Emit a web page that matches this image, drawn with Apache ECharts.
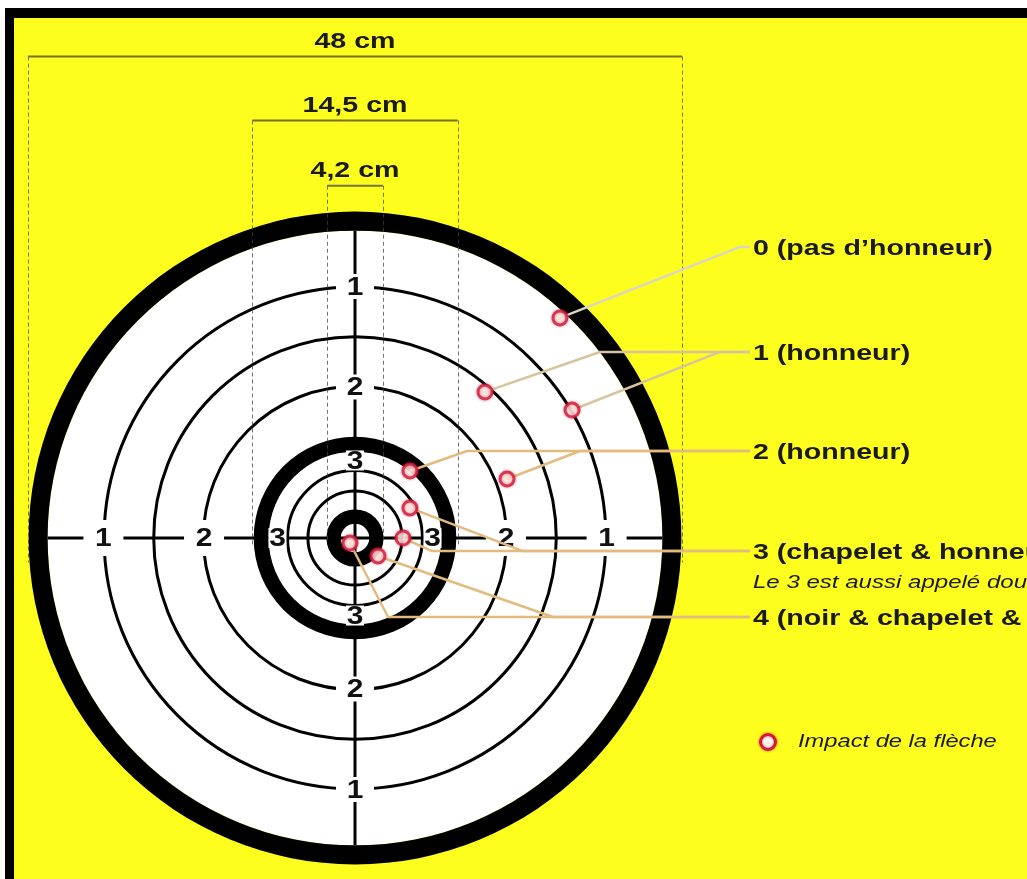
<!DOCTYPE html>
<html><head><meta charset="utf-8">
<script src="https://cdn.jsdelivr.net/npm/echarts@6/dist/echarts.min.js"></script>
<style>html,body{margin:0;padding:0;background:#fff}#c{width:1027px;height:879px}</style>
</head><body><div id="c"></div>
<script>
// ---------------- DATA (centimetres, target centre = 0,0) ----------------
// Target geometry
const faceRadius = 22.6;
const blackBands = [[22.6, 24.0], [6.35, 7.45], [1.05, 2.1]];   // [inner, outer] radii
const thinRings = [18.45, 14.8, 11.15, 4.96, 3.46];
const crossHalf = 22.6;

// Score numbers printed on the cross
const ringLabels = ['1', '2', '3'];
const ringLabelRadius = [18.5, 11.1, 5.7];

// Dimension annotations
const dimLabels = ['48 cm', '14,5 cm', '4,2 cm'];
const dimHalfWidth = [24.05, 7.55, 2.05];
const dimLineY = [35.4, 30.7, 25.9];
const dimGuideBottom = [-1.8, -0.6, -0.2];

// Arrow impacts
const impactX = [15.07, 9.56, 15.96, 4.04, 11.18, 4.04, 3.53, 1.69, -0.37];
const impactY = [16.18, 10.74, 9.41, 4.93, 4.34, 2.21, 0.0, -1.32, -0.37];
const impactScore = [0, 1, 1, 2, 2, 3, 3, 4, 4];
const impactBendX = [28.31, 18.01, 26.84, 8.24, 16.54, 12.35, 5.66, 14.56, 2.43];

// Score categories (right-hand captions)
const scoreLabels = ['0 (pas d\u2019honneur)', '1 (honneur)', '2 (honneur)',
  '3 (chapelet & honneur)', '4 (noir & chapelet & honneur)'];
const scoreLineY = [21.40, 13.68, 6.40, -0.96, -5.81];
const scoreLineEndX = 29.04;
const scoreNote = 'Le 3 est aussi appel\u00e9 double';
const legendLabel = 'Impact de la fl\u00e8che';

// ---------------- LAYOUT ----------------
const W = 1027, H = 879;
const SCALE = 13.6;              // px per cm
const CENTER_PX = [355, 538];
const FONT = '"Liberation Sans", Arial, sans-serif';
const STRETCH = 1.3;
const YELLOW = '#fefe1e';
const IMPACT_STYLE = {color: '#fff6ee', borderColor: '#cf1a3a', borderWidth: 3,
  shadowBlur: 3, shadowColor: 'rgba(215,20,50,0.55)'};

const chart = echarts.init(document.getElementById('c'), null, {renderer: 'canvas'});

const ringLabelItems = [];
ringLabels.forEach((t, k) => {
  [[0, 1], [0, -1], [-1, 0], [1, 0]].forEach(d => {
    ringLabelItems.push({x: d[0] * ringLabelRadius[k], y: d[1] * ringLabelRadius[k], k: k, vertical: d[0] === 0});
  });
});

const option = {
  animation: false,
  grid: {left: 0, right: 0, top: 0, bottom: 0},
  xAxis: {type: 'value', min: -CENTER_PX[0] / SCALE, max: (W - CENTER_PX[0]) / SCALE, show: false},
  yAxis: {type: 'value', min: -(H - CENTER_PX[1]) / SCALE, max: CENTER_PX[1] / SCALE, show: false},
  graphic: [
    {type: 'rect', z: -100, shape: {x: 0, y: 0, width: W, height: H}, style: {fill: '#ffffff'}},
    {type: 'rect', z: -99, shape: {x: 5, y: 8, width: W - 5, height: H - 8}, style: {fill: '#000'}},
    {type: 'rect', z: -98, shape: {x: 14, y: 18, width: W - 14, height: H - 18}, style: {fill: YELLOW}},
    {type: 'circle', z: 50, shape: {cx: 768, cy: 742, r: 7.5}, style: {fill: IMPACT_STYLE.color, stroke: IMPACT_STYLE.borderColor, lineWidth: 3, shadowBlur: 3, shadowColor: IMPACT_STYLE.shadowColor}},
    {type: 'text', z: 50, x: 798, y: 742, scaleX: 1.28, style: {text: legendLabel, font: 'italic 18.5px ' + FONT, fill: '#1a1a1a', align: 'left', verticalAlign: 'middle'}}
  ],
  series: [
    { // target face, rings, cross
      type: 'custom', z: 1, silent: true,
      data: [[0, 0]],
      renderItem: function (params, api) {
        const c = api.coord([0, 0]);
        const px = r => api.size([r, 0])[0];
        const ch = [];
        ch.push({type: 'circle', shape: {cx: c[0], cy: c[1], r: px(faceRadius)}, style: {fill: '#fff'}});
        thinRings.forEach(r => ch.push({type: 'circle', shape: {cx: c[0], cy: c[1], r: px(r)}, style: {fill: null, stroke: '#000', lineWidth: 3}}));
        blackBands.forEach(b => ch.push({type: 'ring', shape: {cx: c[0], cy: c[1], r: px(b[1]), r0: px(b[0])}, style: {fill: '#000'}}));
        const l = api.coord([-crossHalf, 0]), r = api.coord([crossHalf, 0]);
        const t = api.coord([0, crossHalf]), b = api.coord([0, -crossHalf]);
        ch.push({type: 'line', shape: {x1: l[0], y1: l[1], x2: r[0], y2: r[1]}, style: {stroke: '#000', lineWidth: 3}});
        ch.push({type: 'line', shape: {x1: t[0], y1: t[1], x2: b[0], y2: b[1]}, style: {stroke: '#000', lineWidth: 3}});
        return {type: 'group', children: ch};
      }
    },
    { // ring numbers
      type: 'custom', z: 3, silent: true,
      data: ringLabelItems.map(d => [d.x, d.y]),
      renderItem: function (params, api) {
        const it = ringLabelItems[params.dataIndex];
        const p = api.coord([it.x, it.y]);
        const box = it.k === 2 ? [18, 20] : (it.vertical ? [38, 25] : [40, 36]);
        return {type: 'group', children: [
          {type: 'rect', shape: {x: p[0] - box[0] / 2, y: p[1] - box[1] / 2, width: box[0], height: box[1]}, style: {fill: '#fff'}},
          {type: 'text', x: p[0], y: p[1] + 1, scaleX: 1.15, style: {text: ringLabels[it.k], font: 'bold 26px ' + FONT, fill: '#111', align: 'center', verticalAlign: 'middle'}}
        ]};
      }
    },
    { // dimension annotations
      type: 'custom', z: 2, silent: true,
      data: dimLabels.map((t, i) => [0, dimLineY[i]]),
      renderItem: function (params, api) {
        const i = params.dataIndex, hw = dimHalfWidth[i];
        const pL = api.coord([-hw, dimLineY[i]]), pR = api.coord([hw, dimLineY[i]]);
        const bL = api.coord([-hw, dimGuideBottom[i]]), bR = api.coord([hw, dimGuideBottom[i]]);
        const c = api.coord([0, dimLineY[i]]);
        const guide = {stroke: 'rgba(70,70,50,0.75)', lineWidth: 1, lineDash: [4, 3]};
        return {type: 'group', children: [
          {type: 'line', shape: {x1: Math.round(pL[0]) + 0.5, y1: pL[1], x2: Math.round(bL[0]) + 0.5, y2: bL[1]}, style: guide},
          {type: 'line', shape: {x1: Math.round(pR[0]) + 0.5, y1: pR[1], x2: Math.round(bR[0]) + 0.5, y2: bR[1]}, style: guide},
          {type: 'line', shape: {x1: pL[0], y1: pL[1], x2: pR[0], y2: pR[1]}, style: {stroke: '#77712c', lineWidth: 2}},
          {type: 'text', x: c[0], y: c[1] - 15, scaleX: STRETCH, style: {text: dimLabels[i], font: 'bold 22px ' + FONT, fill: '#1a1a1a', align: 'center', verticalAlign: 'middle'}}
        ]};
      }
    },
    { // connectors
      type: 'custom', z: 4, silent: true,
      data: impactX.map((x, i) => [x, impactY[i]]),
      renderItem: function (params, api) {
        const i = params.dataIndex, s = impactScore[i];
        const pts = [api.coord([impactX[i], impactY[i]]), api.coord([impactBendX[i], scoreLineY[s]]), api.coord([scoreLineEndX, scoreLineY[s]])];
        return {type: 'polyline', shape: {points: pts}, style: {fill: null, stroke: s === 0 ? '#d9d5c2' : (s === 1 ? '#d8c49c' : '#e2bb7e'), lineWidth: 2.5, lineJoin: 'round'}};
      }
    },
    { // score captions
      type: 'custom', z: 4, silent: true,
      data: scoreLabels.map((t, i) => [scoreLineEndX, scoreLineY[i]]),
      renderItem: function (params, api) {
        const i = params.dataIndex;
        const p = api.coord([scoreLineEndX, scoreLineY[i]]);
        const ch = [{type: 'text', x: p[0] + 3, y: p[1] + 2, scaleX: STRETCH, style: {text: scoreLabels[i], font: 'bold 22px ' + FONT, fill: '#1a1a1a', align: 'left', verticalAlign: 'middle'}}];
        if (i === 3) ch.push({type: 'text', x: p[0] + 3, y: p[1] + 32, scaleX: 1.3, style: {text: scoreNote, font: 'italic 18.5px ' + FONT, fill: '#1a1a1a', align: 'left', verticalAlign: 'middle'}});
        return {type: 'group', children: ch};
      }
    },
    { // impacts
      name: legendLabel, type: 'scatter', z: 6, silent: true,
      symbol: 'circle', symbolSize: 14,
      itemStyle: IMPACT_STYLE,
      data: impactX.map((x, i) => [x, impactY[i]])
    }
  ]
};
chart.setOption(option);
</script></body></html>
